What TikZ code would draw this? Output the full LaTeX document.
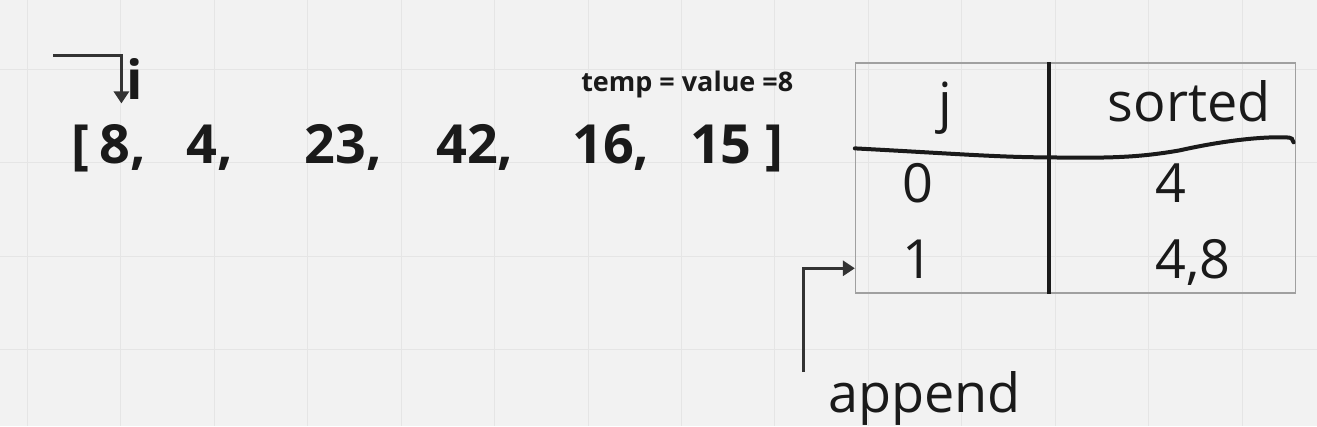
\documentclass[tikz,border=0pt]{standalone}
\usepackage{fontspec}
\setmainfont{Open Sans}
\usetikzlibrary{arrows.meta}
\definecolor{bg}{HTML}{F2F2F2}
\definecolor{gridc}{HTML}{E5E5E5}
\definecolor{ink}{HTML}{1A1A1A}
\definecolor{pen}{HTML}{333333}
\definecolor{frame}{HTML}{A0A0A0}
\begin{document}
\begin{tikzpicture}[x=1pt, y=-1pt,
  num/.style={anchor=base west, inner sep=0pt, text=ink, font=\fontsize{54}{60}\selectfont\bfseries},
  cell/.style={anchor=base west, inner sep=0pt, text=ink, font=\fontsize{54}{60}\selectfont},
  pointer/.style={draw=pen, line width=3.2pt, -{Triangle[length=12pt,width=15pt]}}]
\fill[bg] (0,0) rectangle (1317,426);
\foreach \gx in {27,120.5,...,1317} \draw[gridc, line width=1pt] (\gx,0) -- (\gx,426);
\foreach \gy in {69,162.5,...,426} \draw[gridc, line width=1pt] (0,\gy) -- (1317,\gy);
\useasboundingbox (0,0) rectangle (1317,426);
\node[num] (A_l) at (71,163) {[};
\node[num] (A_0) at (99,163) {8,};
\node[num] (A_1) at (186,163) {4,};
\node[num] (A_2) at (304,163) {23,};
\node[num] (A_3) at (436,163) {42,};
\node[num] (A_4) at (572,163) {16,};
\node[num] (A_5) at (690,163) {15};
\node[num] (A_r) at (765,163) {]};
\node[num] (I) at (126,99) {i};
\node[anchor=base west, inner sep=0pt, text=ink, font=\fontsize{27}{32}\selectfont\bfseries] (T_0) at (581,91) {temp = value =8};
\coordinate (i_0) at (53,55);
\coordinate (i_1) at (121,103);
\draw[pointer] (i_0) -| (i_1);
\node[draw=frame, line width=1.5pt, minimum width=440pt, minimum height=230pt, inner sep=0pt, anchor=north west] (T) at (855,62) {};
\draw[ink, line width=4pt] (T.north -| 1049,0) -- (T.south -| 1049,0);
\draw[ink, line width=4pt, line cap=round] (855,148) .. controls (950,153) and (1000,157) .. (1049,157) .. controls (1110,158) and (1140,157) .. (1180,150) .. controls (1220,141) and (1260,136) .. (1287,137) .. controls (1292,137) and (1294,139) .. (1294,142);
\node[cell, anchor=base] (H_0) at (946,121) {j};
\node[cell] (H_1) at (1108,121) {sorted};
\node[cell] (J_0) at (902,202) {0};
\node[cell] (S_0) at (1156,202) {4};
\node[cell] (J_1) at (902,278) {1};
\node[cell] (S_1) at (1156,278) {4,8};
\node[cell] (P) at (828,412) {append};
\coordinate (p_0) at (804,372);
\coordinate (p_1) at (855,268);
\draw[pointer] (p_0) |- (p_1);
\end{tikzpicture}
\end{document}
